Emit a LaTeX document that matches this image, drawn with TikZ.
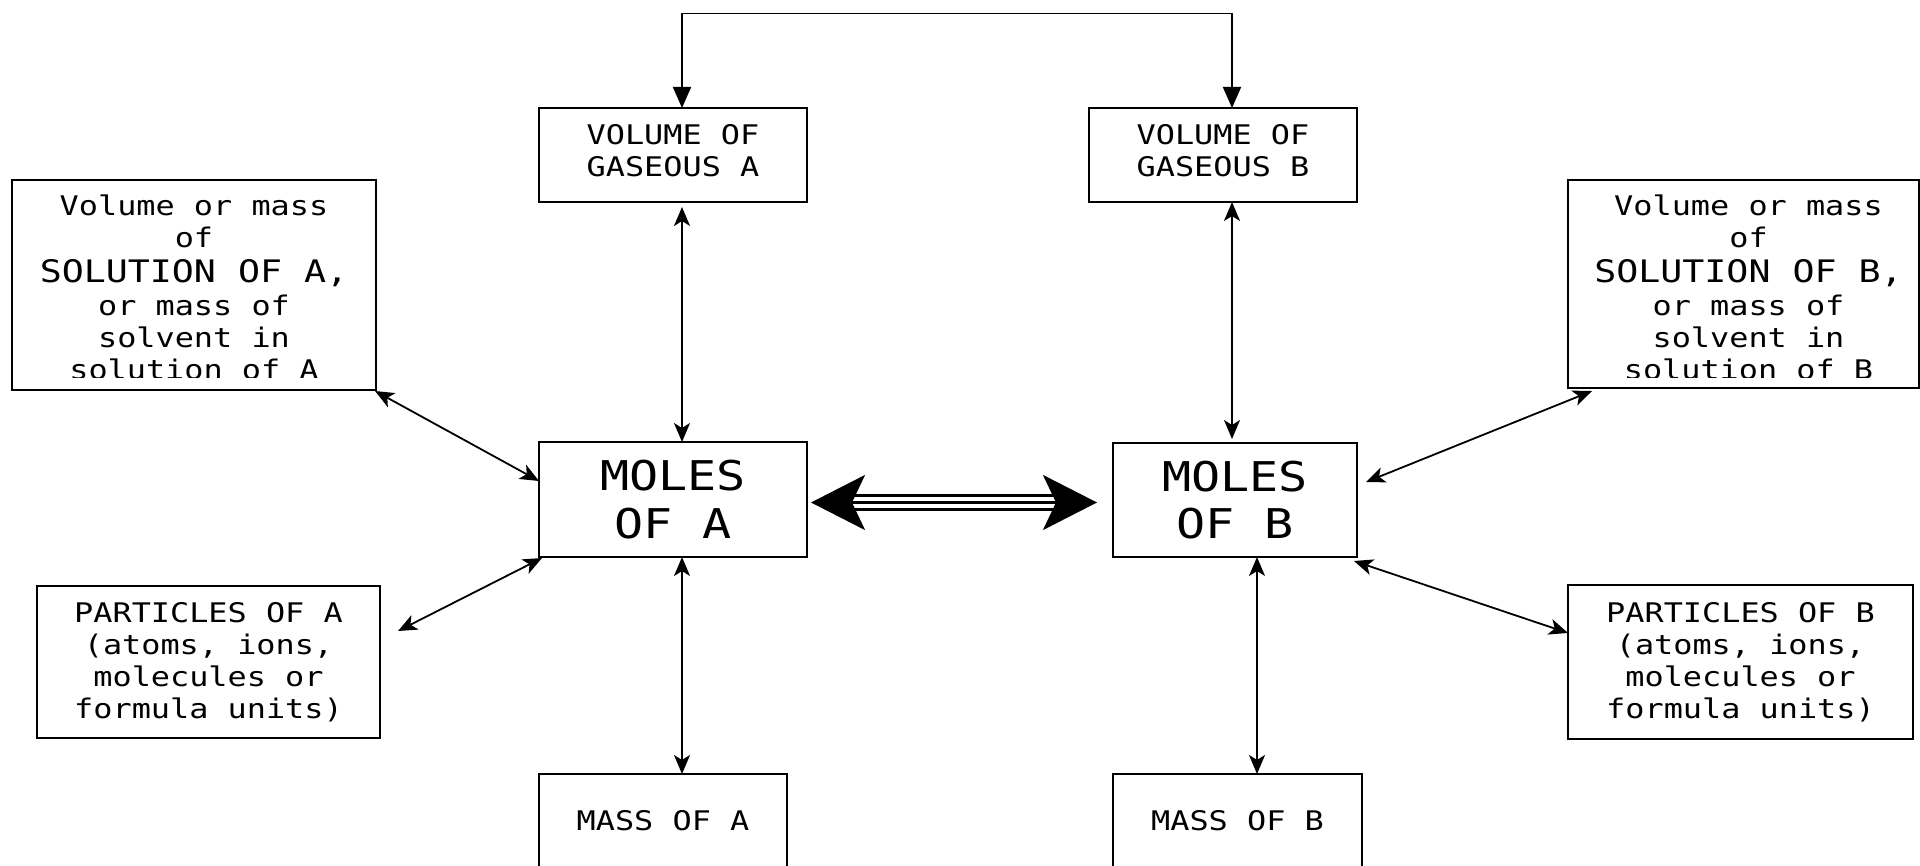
\documentclass[tikz,border=0pt]{standalone}
\usepackage{fontspec}
\newfontfamily\dvm[FakeStretch=1.18]{DejaVu Sans Mono}
\usetikzlibrary{arrows.meta}
\begin{document}
\begin{tikzpicture}[x=1pt,y=-1pt,
  box/.style={draw, line width=1.6pt, rectangle, outer sep=0pt, inner sep=0pt, align=center,
    font=\dvm\fontsize{27}{32}\selectfont},
  bigtext/.style={font=\dvm\fontsize{41}{47.7}\selectfont},
  soltext/.style={anchor=north, inner sep=0pt, align=center, font=\dvm\fontsize{27}{32}\selectfont},
  dbl/.style={line width=1.8pt, {Stealth[length=19pt,width=16pt,inset=5pt]}-{Stealth[length=19pt,width=16pt,inset=5pt]}},
  tri/.style={line width=1.8pt, {Triangle[length=21pt,width=18pt]}-{Triangle[length=21pt,width=18pt]}},
  bigdbl/.style={line width=2.5pt, {Stealth[length=54pt,width=55pt,inset=13pt]}-{Stealth[length=54pt,width=55pt,inset=13pt]}},
  shaft/.style={line width=2.5pt}
]
\useasboundingbox (0,0) rectangle (1920,866);

% boxes
\node[box, minimum width=268pt, minimum height=94pt] (volA) at (673,155) {VOLUME OF\\GASEOUS A\rule[-10pt]{0pt}{0pt}};
\node[box, minimum width=268pt, minimum height=94pt] (volB) at (1223,155) {VOLUME OF\\GASEOUS B\rule[-10pt]{0pt}{0pt}};
\node[box, minimum width=364pt, minimum height=210pt] (solA) at (194,285) {};
\node[box, minimum width=351pt, minimum height=208pt] (solB) at (1743.5,284) {};
\node[box, bigtext, minimum width=268pt, minimum height=115pt] (moleA) at (673,499.5) {MOLES\\OF A};
\node[box, bigtext, minimum width=244pt, minimum height=114pt] (moleB) at (1235,500) {MOLES\\OF B};
\node[box, minimum width=343pt, minimum height=152pt] (partA) at (208.5,662) {PARTICLES OF A\\(atoms, ions,\\molecules or\\formula units)};
\node[box, minimum width=345pt, minimum height=154pt] (partB) at (1740.5,662) {PARTICLES OF B\\(atoms, ions,\\molecules or\\formula units)};
\node[box, minimum width=248pt, minimum height=94pt] (massA) at (663,821) {MASS OF A};
\node[box, minimum width=249pt, minimum height=94pt] (massB) at (1237.5,821) {MASS OF B};

% clipped texts of solution boxes
\begin{scope}
  \clip (solA.north west) rectangle ([yshift=12pt]solA.south east);
  \node[soltext] (solAt) at ([yshift=-15pt]solA.north) {Volume or mass\\of\\[3pt]{\fontsize{31}{35}\selectfont SOLUTION OF A,}\\[1pt]or mass of\\solvent in\\solution of A};
\end{scope}
\begin{scope}
  \clip (solB.north west) rectangle ([yshift=10pt]solB.south east);
  \node[soltext] (solBt) at ([xshift=5pt,yshift=-15pt]solB.north) {Volume or mass\\of\\[3pt]{\fontsize{31}{35}\selectfont SOLUTION OF B,}\\[1pt]or mass of\\solvent in\\solution of B};
\end{scope}

% top connector
\coordinate (ta) at (682,13.5);
\coordinate (tb) at (1232,13.5);
\draw[tri] (volA.north -| ta) -- (ta) -- (tb) -- (volB.north -| tb);

% vertical connectors
\draw[dbl, shorten <=5pt] ([xshift=9pt]volA.south) -- ([xshift=9pt]moleA.north);
\draw[dbl, shorten >=4pt] ([xshift=9pt]volB.south) -- ([xshift=-3pt]moleB.north);
\draw[dbl] ([xshift=9pt]moleA.south) -- ([xshift=19pt]massA.north);
\draw[dbl] ([xshift=22pt]moleB.south) -- ([xshift=19.5pt]massB.north);

% diagonal connectors
\draw[dbl] ([shift={(-1pt,-1pt)}]solA.south east) -- ([yshift=18.5pt]moleA.west);
\draw[dbl] ([shift={(18pt,31pt)}]partA.east) -- ([shift={(3pt,-1pt)}]moleA.south west);
\draw[dbl] ([shift={(24pt,-3pt)}]solB.south west) -- ([shift={(9pt,18pt)}]moleB.east);
\draw[dbl] ([shift={(-3pt,-4pt)}]moleB.south east) -- ([yshift=29pt]partB.west);

% big double arrow
\draw[bigdbl, shorten <=4pt, shorten >=16pt] ([yshift=-3pt]moleA.east) -- ([yshift=-2.5pt]moleB.west);
\draw[shaft, shorten <=43pt, shorten >=55pt] ([yshift=4pt]moleA.east) -- ([yshift=4.5pt]moleB.west);
\draw[shaft, shorten <=43pt, shorten >=55pt] ([yshift=-10pt]moleA.east) -- ([yshift=-9.5pt]moleB.west);
\end{tikzpicture}
\end{document}
